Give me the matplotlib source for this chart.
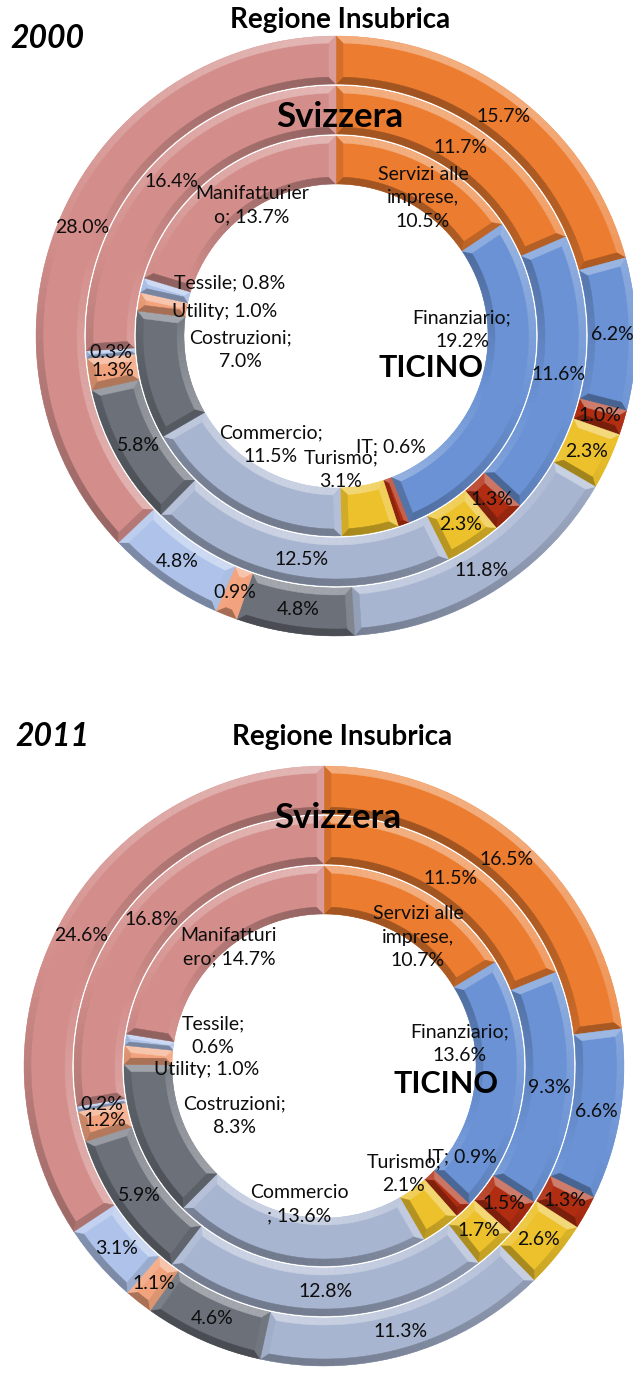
import numpy as np
import matplotlib
matplotlib.use("Agg")
import matplotlib.pyplot as plt
from matplotlib.patches import Polygon
import matplotlib.colors as mcolors

plt.rcParams['font.family'] = ['Lato', 'DejaVu Sans']

# ---------------- data ----------------
categories = ["Servizi alle imprese", "Finanziario", "IT", "Turismo", "Commercio",
              "Costruzioni", "Utility", "Tessile", "Manifatturiero"]
colors = ["#EC7C30", "#6A92D4", "#B02D12", "#ECC12B", "#A8B5D1",
          "#6B7079", "#F2A27C", "#AFC3EA", "#D38E8B"]

insubrica_2000 = [15.7, 6.2, 1.0, 2.3, 11.8, 4.8, 0.9, 4.8, 28.0]
svizzera_2000 = [11.7, 11.6, 1.3, 2.3, 12.5, 5.8, 1.3, 0.3, 16.4]
ticino_2000 = [10.5, 19.2, 0.6, 3.1, 11.5, 7.0, 1.0, 0.8, 13.7]

insubrica_2011 = [16.5, 6.6, 1.3, 2.6, 11.3, 4.6, 1.1, 3.1, 24.6]
svizzera_2011 = [11.5, 9.3, 1.5, 1.7, 12.8, 5.9, 1.2, 0.2, 16.8]
ticino_2011 = [10.7, 13.6, 0.9, 2.1, 13.6, 8.3, 1.0, 0.6, 14.7]

years = ["2000", "2011"]
ring_titles = ["Regione Insubrica", "Svizzera", "TICINO"]

# inner-ring label prefixes (line breaks as in the original)
inner_names_2000 = ["Servizi alle\nimprese,\n", "Finanziario;\n", "IT; ", "Turismo;\n",
                    "Commercio;\n", "Costruzioni;\n", "Utility; ", "Tessile; ",
                    "Manifatturier\no; "]
inner_names_2011 = ["Servizi alle\nimprese,\n", "Finanziario;\n", "IT; ", "Turismo;\n",
                    "Commercio\n; ", "Costruzioni;\n", "Utility; ", "Tessile;\n",
                    "Manifatturi\nero; "]

# ---------------- layout (pixels, y downward) ----------------
W, H = 633, 1377
R_OUT, RING_W, GAP = 300, 48, 2
BEVEL = 7

charts = [
    dict(year=years[0], center=(336, 336),
         rings=[insubrica_2000, svizzera_2000, ticino_2000], names=inner_names_2000,
         inner_pos=[(87, -138), (126, -6), (55, 111), (5, 134), (-65, 109),
                    (-96, 14), (-111, -24), (-106, -53), (-84, -131)],
         title_pos=(4, -316), sv_pos=(4, -219), ti_pos=(95, 32), year_pos=(47, 38)),
    dict(year=years[1], center=(324, 1066),
         rings=[insubrica_2011, svizzera_2011, ticino_2011], names=inner_names_2011,
         inner_pos=[(94, -129), (136, -22), (138, 91), (80, 108), (-25, 138),
                    (-90, 50), (-117, 3), (-111, -30), (-95, -119)],
         title_pos=(18, -329), sv_pos=(14, -248), ti_pos=(122, 18), year_pos=(52, 737)),
]

fig = plt.figure(figsize=(W / 100, H / 100), dpi=100)
ax = fig.add_axes([0, 0, 1, 1])

L = np.array([0.35, 1.0])
L = L / np.linalg.norm(L)


def shade(rgb, k, amt=1.0):
    rgb = np.asarray(rgb, dtype=float)
    k = k * amt
    if k >= 0:
        return tuple(rgb + (1 - rgb) * 0.38 * k)
    return tuple(rgb * (1 + 0.32 * k))


def pol(cx, cy, r, a):
    return (cx + r * np.cos(a), cy + r * np.sin(a))


def add_facet(pts, col):
    ax.add_patch(Polygon(pts, closed=True, facecolor=col, edgecolor=col,
                         linewidth=0.3, zorder=2))


def bevel(w):
    cx, cy = w.center
    r_o = w.r
    r_i = w.r - w.width
    t1, t2 = np.radians(w.theta1), np.radians(w.theta2)
    base = mcolors.to_rgb(w.get_facecolor())
    b = min(BEVEL, 0.45 * r_i * (t2 - t1))
    ro_b, ri_b = r_o - b, r_i + b
    d_o = np.arcsin(b / ro_b)
    d_i = np.arcsin(b / ri_b)
    n = max(2, int(np.degrees(t2 - t1) / 2))
    s = np.linspace(0, 1, n + 1)
    for (ra, rb, d, sign) in [(r_o, ro_b, d_o, 1), (r_i, ri_b, d_i, -1)]:
        pa = t1 + s * (t2 - t1)
        pb = (t1 + d) + s * ((t2 - d) - (t1 + d))
        for j in range(n):
            ph = 0.5 * (pa[j] + pa[j + 1])
            nrm = sign * np.array([np.cos(ph), np.sin(ph)])
            col = shade(base, float(nrm @ L))
            add_facet([pol(cx, cy, ra, pa[j]), pol(cx, cy, ra, pa[j + 1]),
                       pol(cx, cy, rb, pb[j + 1]), pol(cx, cy, rb, pb[j])], col)
    nrm = np.array([np.sin(t1), -np.cos(t1)])
    add_facet([pol(cx, cy, r_i, t1), pol(cx, cy, r_o, t1),
               pol(cx, cy, ro_b, t1 + d_o), pol(cx, cy, ri_b, t1 + d_i)],
              shade(base, float(nrm @ L)))
    nrm = np.array([-np.sin(t2), np.cos(t2)])
    add_facet([pol(cx, cy, r_i, t2), pol(cx, cy, r_o, t2),
               pol(cx, cy, ro_b, t2 - d_o), pol(cx, cy, ri_b, t2 - d_i)],
              shade(base, float(nrm @ L)))


LABEL_FS = 14
for ch in charts:
    cxp, cyp = ch["center"]
    cx, cy = cxp, H - cyp
    for ri, vals in enumerate(ch["rings"]):
        radius = R_OUT - ri * (RING_W + GAP)
        wedges, _ = ax.pie(vals, radius=radius, center=(cx, cy), startangle=90,
                           counterclock=False, colors=colors, frame=True,
                           wedgeprops=dict(width=RING_W, edgecolor='none', linewidth=0))
        for w in wedges:
            bevel(w)
        if ri < 2:
            rmid = radius - RING_W / 2
            for w, v in zip(wedges, vals):
                a = np.radians(0.5 * (w.theta1 + w.theta2))
                ax.text(cx + rmid * np.cos(a), cy + rmid * np.sin(a), f"{v:.1f}%",
                        ha='center', va='center', fontsize=LABEL_FS, color='#0d0d0d',
                        zorder=5)
        else:
            for (dx, dy), nm, v in zip(ch["inner_pos"], ch["names"], vals):
                ax.text(cx + dx, cy - dy, f"{nm}{v:.1f}%", ha='center', va='center',
                        fontsize=LABEL_FS, color='#0d0d0d', linespacing=1.45,
                        multialignment='center', zorder=5)
    ax.text(cx + ch["title_pos"][0], cy - ch["title_pos"][1], ring_titles[0],
            ha='center', va='center', fontsize=20, fontweight='bold', zorder=6)
    ax.text(cx + ch["sv_pos"][0], cy - ch["sv_pos"][1], ring_titles[1],
            ha='center', va='center', fontsize=25, fontweight='bold', zorder=6)
    ax.text(cx + ch["ti_pos"][0], cy - ch["ti_pos"][1], ring_titles[2],
            ha='center', va='center', fontsize=22, fontweight='bold', zorder=6)
    ax.text(ch["year_pos"][0], H - ch["year_pos"][1], ch["year"], ha='center',
            va='center', fontsize=23, fontweight='bold', fontstyle='italic', zorder=6)

ax.set_xlim(0, W)
ax.set_ylim(0, H)
ax.set_aspect('equal')
ax.axis('off')
fig.savefig("out.png", dpi=100, facecolor='white')
